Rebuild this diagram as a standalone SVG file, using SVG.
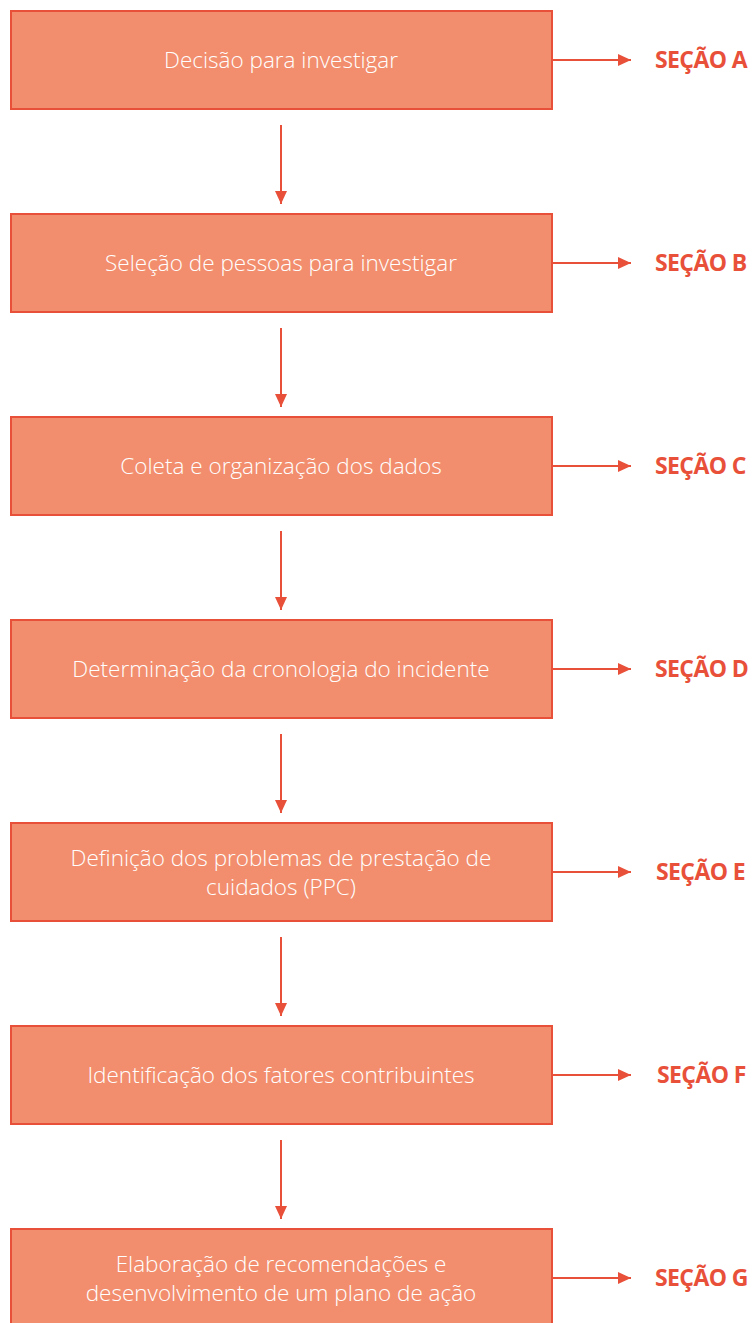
<svg xmlns="http://www.w3.org/2000/svg" width="754" height="1323" viewBox="0 0 754 1323">
<style>
.box{fill:#F28E6E;stroke:#E8503A;stroke-width:2}
.t{fill:#FFFFFF;font-family:"Open Sans","Noto Sans",sans-serif;font-weight:300;font-size:22.5px;text-anchor:middle}
.s{fill:#E8503A;font-family:"Open Sans","Noto Sans",sans-serif;font-weight:700;font-size:23px;letter-spacing:-0.6px}
.c{stroke:#E8503A;stroke-width:2;fill:none}
</style>
<defs>
<marker id="ah" markerWidth="14" markerHeight="12" refX="13" refY="6" orient="auto" markerUnits="userSpaceOnUse">
<path d="M0,0 L13,6 L0,12 Z" fill="#E8503A"/>
</marker>
</defs>
<g id="connectors">
<line class="c" x1="281" y1="125" x2="281" y2="204" marker-end="url(#ah)"/>
<line class="c" x1="281" y1="328" x2="281" y2="407" marker-end="url(#ah)"/>
<line class="c" x1="281" y1="531" x2="281" y2="610" marker-end="url(#ah)"/>
<line class="c" x1="281" y1="734" x2="281" y2="813" marker-end="url(#ah)"/>
<line class="c" x1="281" y1="937" x2="281" y2="1016" marker-end="url(#ah)"/>
<line class="c" x1="281" y1="1140" x2="281" y2="1219" marker-end="url(#ah)"/>
<line class="c" x1="552" y1="60" x2="631" y2="60" marker-end="url(#ah)"/>
<line class="c" x1="552" y1="263" x2="631" y2="263" marker-end="url(#ah)"/>
<line class="c" x1="552" y1="466" x2="631" y2="466" marker-end="url(#ah)"/>
<line class="c" x1="552" y1="669" x2="631" y2="669" marker-end="url(#ah)"/>
<line class="c" x1="552" y1="872" x2="631" y2="872" marker-end="url(#ah)"/>
<line class="c" x1="552" y1="1075" x2="631" y2="1075" marker-end="url(#ah)"/>
<line class="c" x1="552" y1="1278" x2="631" y2="1278" marker-end="url(#ah)"/>
</g>
<g id="nodeA">
<rect class="box" x="11" y="11" width="541" height="98"/>
<text class="t" x="281" y="68">Decisão para investigar</text>
<text class="s" x="655" y="68">SEÇÃO A</text>
</g>
<g id="nodeB">
<rect class="box" x="11" y="214" width="541" height="98"/>
<text class="t" x="281" y="271">Seleção de pessoas para investigar</text>
<text class="s" x="655" y="271">SEÇÃO B</text>
</g>
<g id="nodeC">
<rect class="box" x="11" y="417" width="541" height="98"/>
<text class="t" x="281" y="474">Coleta e organização dos dados</text>
<text class="s" x="655" y="474">SEÇÃO C</text>
</g>
<g id="nodeD">
<rect class="box" x="11" y="620" width="541" height="98"/>
<text class="t" x="281" y="677">Determinação da cronologia do incidente</text>
<text class="s" x="655" y="677">SEÇÃO D</text>
</g>
<g id="nodeE">
<rect class="box" x="11" y="823" width="541" height="98"/>
<text class="t" x="281" y="866">Definição dos problemas de prestação de</text>
<text class="t" x="281" y="895">cuidados (PPC)</text>
<text class="s" x="656" y="880">SEÇÃO E</text>
</g>
<g id="nodeF">
<rect class="box" x="11" y="1026" width="541" height="98"/>
<text class="t" x="281" y="1083">Identificação dos fatores contribuintes</text>
<text class="s" x="657" y="1083">SEÇÃO F</text>
</g>
<g id="nodeG">
<rect class="box" x="11" y="1229" width="541" height="98"/>
<text class="t" x="281" y="1272">Elaboração de recomendações e</text>
<text class="t" x="281" y="1301">desenvolvimento de um plano de ação</text>
<text class="s" x="655" y="1286">SEÇÃO G</text>
</g>
</svg>
